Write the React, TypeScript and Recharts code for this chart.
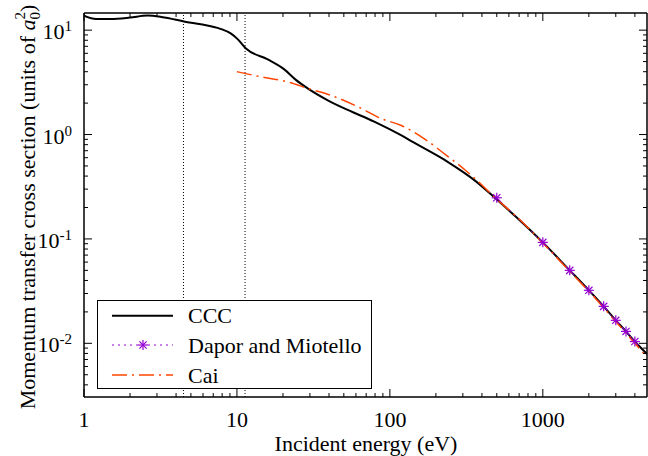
import React from "react";
import { LineChart, Line, XAxis, YAxis, ReferenceLine, Legend } from "recharts";

// CCC momentum transfer cross section (units of a0^2) vs incident energy (eV)
const cccEnergy = [1, 1.2, 1.5, 2, 2.6, 3.2, 4, 4.5, 5.8, 7.8, 9.1, 10.1, 11.4, 15.9, 20.4, 24.4, 29, 39, 53, 79, 119, 145, 240, 362, 490, 667, 1000, 1500, 2000, 2500, 3000, 3500, 4000, 4800];
const cccSigma = [13.8, 12.8, 12.8, 13.2, 13.8, 13.4, 12.6, 12.1, 11.4, 10.3, 9.3, 8.2, 6.7, 5.25, 4.21, 3.32, 2.77, 2.14, 1.72, 1.33, 0.98, 0.83, 0.545, 0.36, 0.245, 0.163, 0.0927, 0.05, 0.0322, 0.0226, 0.0166, 0.013, 0.0104, 0.0079];

// Dapor and Miotello
const daporEnergy = [500, 1000, 1500, 2000, 2500, 3000, 3500, 4000];
const daporSigma = [0.248, 0.0927, 0.05, 0.0322, 0.0226, 0.0166, 0.013, 0.0104];

// Cai
const caiEnergy = [10, 13.6, 21.4, 29, 43.6, 65, 88, 119, 170, 240, 309, 398, 464, 700, 1000, 1500, 2000, 3000, 4000, 4800];
const caiSigma = [4.0, 3.63, 3.2, 2.77, 2.3, 1.78, 1.42, 1.22, 0.9, 0.615, 0.46, 0.33, 0.265, 0.155, 0.0915, 0.049, 0.0315, 0.0162, 0.01, 0.0074];

// vertical dotted marks
const thresholds = [4.47, 11.3];

const xMajor = [1, 10, 100, 1000];
const xMajorLabels = ["1", "10", "100", "1000"];
const yMajor = [0.01, 0.1, 1, 10];
const yMajorExp = ["-2", "-1", "0", "1"];

const xDomain = [1, 4800];
const yDomain = [0.00306, 14.6];

const FONT = "'Liberation Serif', 'Times New Roman', Times, 'DejaVu Serif', serif";

function logTicks(lo: number, hi: number) {
  const out: number[] = [];
  for (let e = -3; e <= 4; e++) {
    const d = Math.pow(10, e);
    for (let m = 1; m <= 9; m++) {
      const v = Number((m * d).toPrecision(6));
      if (v >= lo && v <= hi) out.push(v);
    }
  }
  return out;
}
const xTicks = logTicks(xDomain[0], xDomain[1]);
const yTicks = logTicks(yDomain[0], yDomain[1]);

const majorIndex = (list: number[], v: number) =>
  list.findIndex((p) => Math.abs(v / p - 1) < 1e-6);

const cccData = cccEnergy.map((x, i) => ({ x, y: cccSigma[i] }));
const daporData = daporEnergy.map((x, i) => ({ x, y: daporSigma[i] }));
const caiData = caiEnergy.map((x, i) => ({ x, y: caiSigma[i] }));

const txt = { fontFamily: FONT, fontSize: 22, fill: "#000" };

const BottomTick = (props: any) => {
  const { x, y, payload } = props;
  const i = majorIndex(xMajor, payload.value);
  const len = i >= 0 ? 8 : 4;
  return (
    <g>
      <line x1={x} x2={x} y1={y} y2={y - len} stroke="#000" />
      {i >= 0 && (
        <text x={x} y={y + 30} textAnchor="middle" style={txt}>
          {xMajorLabels[i]}
        </text>
      )}
    </g>
  );
};

const TopTick = (props: any) => {
  const { x, y, payload } = props;
  const len = majorIndex(xMajor, payload.value) >= 0 ? 8 : 4;
  return <line x1={x} x2={x} y1={y} y2={y + len} stroke="#000" />;
};

const LeftTick = (props: any) => {
  const { x, y, payload } = props;
  const i = majorIndex(yMajor, payload.value);
  const len = i >= 0 ? 8 : 4;
  return (
    <g>
      <line x1={x} x2={x + len} y1={y} y2={y} stroke="#000" />
      {i >= 0 && (
        <text x={x - 12} y={y + 9} textAnchor="end" style={txt}>
          <tspan>10</tspan>
          <tspan dy={-8} style={{ fontSize: 15 }}>{yMajorExp[i]}</tspan>
        </text>
      )}
    </g>
  );
};

const RightTick = (props: any) => {
  const { x, y, payload } = props;
  const len = majorIndex(yMajor, payload.value) >= 0 ? 8 : 4;
  return <line x1={x} x2={x - len} y1={y} y2={y} stroke="#000" />;
};

const Star = (props: any) => {
  const { cx, cy } = props;
  if (cx == null || cy == null) return <g />;
  const r = 5;
  const d = r * 0.72;
  return (
    <g stroke="#9400d3" strokeWidth={1.2}>
      <line x1={cx - r} x2={cx + r} y1={cy} y2={cy} />
      <line x1={cx} x2={cx} y1={cy - r} y2={cy + r} />
      <line x1={cx - d} x2={cx + d} y1={cy - d} y2={cy + d} />
      <line x1={cx - d} x2={cx + d} y1={cy + d} y2={cy - d} />
    </g>
  );
};

const YLabel = () => (
  <text x={35} y={207} transform="rotate(-90, 35, 207)" textAnchor="middle" style={txt}>
    <tspan>Momentum transfer cross section (units of </tspan>
    <tspan style={{ fontStyle: "italic" }}>a</tspan>
    <tspan dy={5} style={{ fontSize: 15 }}>0</tspan>
    <tspan dx={-7.5} dy={-15} style={{ fontSize: 15 }}>2</tspan>
    <tspan dy={10}>)</tspan>
  </text>
);

const XLabel = () => (
  <text x={366} y={451} textAnchor="middle" style={txt}>
    Incident energy (eV)
  </text>
);

const LegendBox = () => {
  const rows = [15.7, 45, 75];
  return (
    <svg width={276} height={90} style={{ display: "block" }}>
      <rect x={0.5} y={0.5} width={274} height={88} fill="#fff" stroke="#000" strokeWidth={1} />
      <line x1={15} x2={76} y1={rows[0]} y2={rows[0]} stroke="#000" strokeWidth={2} />
      <text x={91} y={rows[0] + 7.5} style={txt}>CCC</text>
      <line x1={15} x2={76} y1={rows[1]} y2={rows[1]} stroke="#9400d3" strokeWidth={1} strokeDasharray="2 4" />
      <Star cx={46} cy={rows[1]} />
      <text x={91} y={rows[1] + 7.5} style={txt}>Dapor and Miotello</text>
      <line x1={15} x2={76} y1={rows[2]} y2={rows[2]} stroke="#ff4500" strokeWidth={1.5} strokeDasharray="15 5 2 5" />
      <text x={91} y={rows[2] + 7.5} style={txt}>Cai</text>
    </svg>
  );
};

export default function App() {
  return (
    <div style={{ width: 648, height: 456, background: "#fff", fontFamily: FONT }}>
      <style>{"body{margin:0}"}</style>
      <LineChart width={648} height={456} margin={{ top: 0, right: 0, bottom: 0, left: 0 }}>
        <XAxis
          xAxisId="b"
          dataKey="x"
          type="number"
          scale="log"
          domain={xDomain}
          allowDataOverflow
          ticks={xTicks}
          interval={0}
          height={59}
          tickSize={0}
          tickMargin={0}
          tickLine={false}
          tick={<BottomTick />}
          axisLine={{ stroke: "#000", strokeWidth: 1.5 }}
          label={<XLabel />}
        />
        <XAxis
          xAxisId="t"
          orientation="top"
          dataKey="x"
          type="number"
          scale="log"
          domain={xDomain}
          allowDataOverflow
          ticks={xTicks}
          interval={0}
          height={13}
          tickSize={0}
          tickMargin={0}
          tickLine={false}
          tick={<TopTick />}
          axisLine={{ stroke: "#000", strokeWidth: 1.5 }}
        />
        <YAxis
          yAxisId="l"
          type="number"
          scale="log"
          domain={yDomain}
          allowDataOverflow
          ticks={yTicks}
          interval={0}
          width={84}
          tickSize={0}
          tickMargin={0}
          tickLine={false}
          tick={<LeftTick />}
          axisLine={{ stroke: "#000", strokeWidth: 1.5 }}
          label={<YLabel />}
        />
        <YAxis
          yAxisId="r"
          orientation="right"
          type="number"
          scale="log"
          domain={yDomain}
          allowDataOverflow
          ticks={yTicks}
          interval={0}
          width={1}
          tickSize={0}
          tickMargin={0}
          tickLine={false}
          tick={<RightTick />}
          axisLine={{ stroke: "#000", strokeWidth: 1.5 }}
        />
        {thresholds.map((t) => (
          <ReferenceLine
            key={t}
            x={t}
            xAxisId="b"
            yAxisId="l"
            stroke="#000"
            strokeWidth={1}
            strokeDasharray="1 2"
          />
        ))}
        <Line
          xAxisId="b"
          yAxisId="l"
          data={cccData}
          dataKey="y"
          type="monotone"
          stroke="#000"
          strokeWidth={2}
          dot={false}
          isAnimationActive={false}
        />
        <Line
          xAxisId="b"
          yAxisId="l"
          data={daporData}
          dataKey="y"
          type="linear"
          stroke="#9400d3"
          strokeWidth={1}
          strokeDasharray="2 4"
          dot={<Star />}
          isAnimationActive={false}
        />
        <Line
          xAxisId="b"
          yAxisId="l"
          data={caiData}
          dataKey="y"
          type="monotone"
          stroke="#ff4500"
          strokeWidth={1.5}
          strokeDasharray="15 5 2 5"
          dot={false}
          isAnimationActive={false}
        />
        <Legend
          layout="horizontal"
          verticalAlign="middle"
          align="center"
          wrapperStyle={{ position: "absolute", left: 97, top: 300, width: 276, height: 90, margin: 0, padding: 0 }}
          content={() => <LegendBox />}
        />
      </LineChart>
    </div>
  );
}
